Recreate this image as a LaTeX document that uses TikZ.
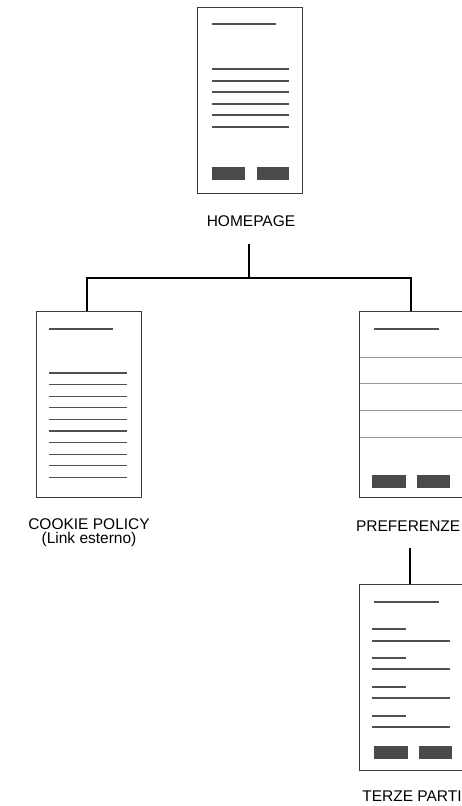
\documentclass[tikz,border=0pt]{standalone}
\usepackage{fontspec}
\setmainfont{Liberation Sans}
\begin{document}
\begin{tikzpicture}[x=1pt,y=-1pt,
  pagebox/.style={draw=boxgray, line width=1.4pt, fill=white, minimum width=105pt, minimum height=186pt, anchor=north west, inner sep=0pt},
  txtline/.style={draw=linegray, line width=1.2pt},
  sepline/.style={draw=sepgray, line width=0.8pt},
  btn/.style={fill=btngray, draw=none},
  conn/.style={draw=black, line width=1.4pt},
  lbl/.style={font=\fontsize{15.5}{14}\selectfont, text=black, inner sep=0pt, align=center}
]
\definecolor{boxgray}{HTML}{3A3A3A}
\definecolor{linegray}{HTML}{505050}
\definecolor{sepgray}{HTML}{999999}
\definecolor{btngray}{HTML}{4A4A4A}
\useasboundingbox (0,0) rectangle (461,806);

% boxes
\node[pagebox] (home) at (197,7) {};
\node[pagebox] (cookie) at (36,311) {};
\node[pagebox] (pref) at (359,311) {};
\node[pagebox] (terze) at (359,584) {};

% labels
\node[lbl, anchor=base] (homel) at (251,226) {HOMEPAGE};
\node[lbl, anchor=center] (cookiel) at (89,533) {COOKIE POLICY\\(Link esterno)};
\node[lbl, anchor=base east] (prefl) at (460.5,531) {PREFERENZE};
\node[lbl, anchor=base] (terzel) at (412,801) {TERZE PARTI};

% home content
\begin{scope}[shift={(home.north west)}]
  \draw[txtline] (15,17) -- (79,17);
  \foreach \y in {62,74,85,97,108,120} \draw[txtline] (15,\y) -- (92,\y);
  \fill[btngray] (15,160) rectangle (48,173);
  \fill[btngray] (60,160) rectangle (92,173);
\end{scope}

% cookie content
\begin{scope}[shift={(cookie.north west)}]
  \draw[txtline] (13,18) -- (77,18);
  \foreach \i in {0,...,9} \draw[txtline] (13,62+11.6*\i) -- (91,62+11.6*\i);
\end{scope}

% preferenze content
\begin{scope}[shift={(pref.north west)}]
  \draw[txtline] (15,18) -- (80,18);
  \foreach \y in {46,72,99,126} \draw[sepline] (0.7,\y) -- (104.3,\y);
  \fill[btngray] (13,164) rectangle (47,177);
  \fill[btngray] (58,164) rectangle (91,177);
\end{scope}

% terze content
\begin{scope}[shift={(terze.north west)}]
  \draw[txtline] (15,18) -- (80,18);
  \foreach \y in {45,74,103,132} \draw[txtline] (13,\y) -- (47,\y);
  \foreach \y in {57,85,114,143} \draw[txtline] (13,\y) -- (91,\y);
  \fill[btngray] (15,162) rectangle (49,175);
  \fill[btngray] (60,162) rectangle (93,175);
\end{scope}

% connectors
\coordinate (hstem) at (249,244);
\coordinate (bus) at (249,278);
\coordinate (cdrop) at (87,311);
\coordinate (pdrop) at (411,311);
\draw[conn] (hstem) -- (bus);
\draw[conn] (cdrop) -- (cdrop |- bus) -- (pdrop |- bus) -- (pdrop);
\coordinate (pstem) at (410,548);
\draw[conn] (pstem) -- (pstem |- terze.north);
\end{tikzpicture}
\end{document}
